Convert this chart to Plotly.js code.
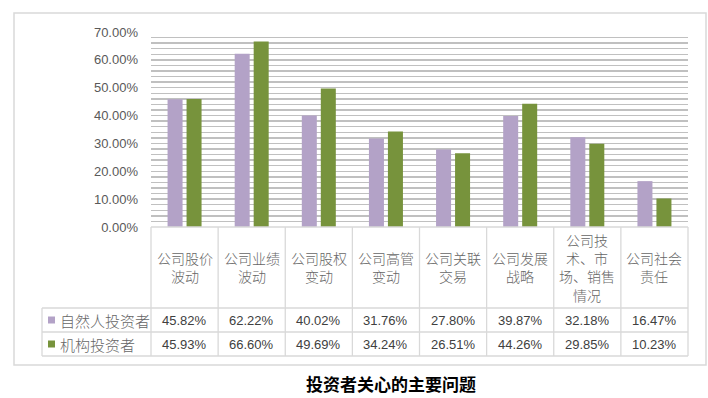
<!DOCTYPE html>
<html><head><meta charset="utf-8">
<script src="https://cdn.plot.ly/plotly-3.0.1.min.js"></script>
<style>html,body{margin:0;padding:0;background:#fff;}#c{width:708px;height:398px;}</style>
</head><body><div id="c"></div>
<script>
var categories = ["公司股价波动","公司业绩波动","公司股权变动","公司高管变动","公司关联交易","公司发展战略","公司技术、市场、销售情况","公司社会责任"];
var tickLabels = ["公司股价<br>波动","公司业绩<br>波动","公司股权<br>变动","公司高管<br>变动","公司关联<br>交易","公司发展<br>战略","公司技<br>术、市<br>场、销售<br>情况","公司社会<br>责任"];
var seriesNames = ["自然人投资者","机构投资者"];
var individual = [45.82,62.22,40.02,31.76,27.80,39.87,32.18,16.47];
var institution = [45.93,66.60,49.69,34.24,26.51,44.26,29.85,10.23];
var chartTitle = "投资者关心的主要问题";

var colors = ["#B3A2C7","#77933C"];
var font = "Liberation Sans, Noto Sans CJK SC, sans-serif";
var cjk = "Noto Sans CJK SC, sans-serif";
var series = [individual, institution];

var L = 151, R = 688, T = 32, B = 227, W = 708, H = 398;
function px2x(p){ return (p - L) / (R - L); }
function px2y(p){ return (B - p) / (B - T); }

var traces = series.map(function(s, k){
  return {type:"bar", x: categories.map(function(_, i){return i;}), y: s.map(function(v){return v/100;}),
    name: seriesNames[k], marker:{color: colors[k]}, hoverinfo:"y"};
});

var grid = "#D9D9D9";
var shapes = [];
var annotations = [];
// outer frame
shapes.push({type:"rect", xref:"paper", yref:"paper", x0:px2x(14), x1:px2x(706), y0:px2y(13), y1:px2y(365), line:{color:"#D9D9D9", width:1.5}});
// table horizontal lines
var hy = [227, 308, 332, 356];
hy.forEach(function(y, j){
  shapes.push({type:"line", xref:"paper", yref:"paper", x0: px2x(j === 0 ? L : 42), x1: 1, y0: px2y(y), y1: px2y(y), line:{color:grid, width:1.3}});
});
// vertical lines
for (var i = 0; i <= categories.length; i++) {
  var xp = L + i * (R - L) / categories.length;
  shapes.push({type:"line", xref:"paper", yref:"paper", x0:px2x(xp), x1:px2x(xp), y0:px2y(227), y1:px2y(356), line:{color:grid, width:1.3}});
}
shapes.push({type:"line", xref:"paper", yref:"paper", x0:px2x(42), x1:px2x(42), y0:px2y(308), y1:px2y(356), line:{color:grid, width:1.3}});

// category labels
tickLabels.forEach(function(t, i){
  annotations.push({xref:"x", yref:"paper", x:i, y:px2y(267), text:t, showarrow:false, xanchor:"center", yanchor:"middle", align:"center",
    font:{family:cjk, size:14, color:"#666666", weight:300}});
});
// rows
var rowY = [320, 344];
series.forEach(function(s, k){
  shapes.push({type:"rect", xref:"paper", yref:"paper", x0:px2x(48), x1:px2x(55), y0:px2y(rowY[k]-3.5), y1:px2y(rowY[k]+3.5), fillcolor:colors[k], line:{width:0}});
  annotations.push({xref:"paper", yref:"paper", x:px2x(58), y:px2y(rowY[k]), text:seriesNames[k], showarrow:false, xanchor:"left", yanchor:"middle",
    font:{family:cjk, size:15, color:"#666666", weight:300}});
  s.forEach(function(v, i){
    annotations.push({xref:"x", yref:"paper", x:i, y:px2y(rowY[k]), text:v.toFixed(2) + "%", showarrow:false, xanchor:"center", yanchor:"middle",
      font:{family:font, size:13, color:"#404040"}});
  });
});
// title
annotations.push({xref:"paper", yref:"paper", x:px2x(391), y:px2y(383), text:"<b>" + chartTitle + "</b>", showarrow:false, xanchor:"center", yanchor:"middle",
  font:{family:cjk, size:17, color:"#000"}});

var layout = {
  width:W, height:H, margin:{l:L, r:W-R, t:T, b:H-B, pad:0},
  paper_bgcolor:"#fff", plot_bgcolor:"#fff", showlegend:false,
  barmode:"group", bargap:0.434, bargroupgap:0.21,
  xaxis:{range:[-0.5, categories.length-0.5], showticklabels:false, showgrid:false, zeroline:false, showline:false, ticks:""},
  yaxis:{range:[0,0.7], dtick:0.1, tickformat:".2%", showgrid:true, gridcolor:"#C0C0C0", gridwidth:1.3, zeroline:false, showline:false,
    ticks:"", ticklabelstandoff:12, tickfont:{family:font, size:13, color:"#595959"},
    minor:{dtick:0.02, showgrid:true, gridcolor:"#C0C0C0", gridwidth:1.3}},
  shapes:shapes, annotations:annotations,
  font:{family:font}
};
Plotly.newPlot("c", traces, layout, {displayModeBar:false, staticPlot:true});
</script></body></html>
